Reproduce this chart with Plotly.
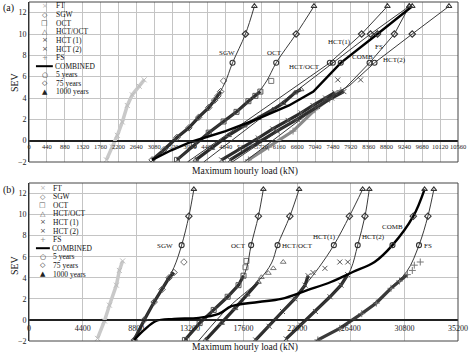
import plotly.graph_objects as go

# ---------------- Panel (a) data (x: kN, y: SEV) ----------------
A_RP_SEV = [7.3, 10.0, 12.6]          # 5, 75, 1000 years

A_FT_X = [1906, 2053, 2175, 2297, 2420, 2542, 2713, 2835]
A_FT_Y = [-1.8, -0.6, 0.5, 1.75, 3.3, 4.3, 5.1, 5.7]

A_SGW_X = [3030, 3324, 3642, 3935, 4179, 4424, 4570, 4650, 4717]
A_SGW_Y = [-1.8, -0.85, 0.3, 1.2, 2.2, 3.1, 3.8, 4.2, 4.6]
A_SGW_OUT_X = [4790]
A_SGW_OUT_Y = [5.6]
A_SGW_FIT_X = [3000, 3642, 4179, 4570, 4820]
A_SGW_FIT_Y = [-2.0, 0.3, 2.2, 3.8, 5.4]
A_SGW_RP = [5010, 5328, 5548]

A_OCT_X = [3642, 4057, 4424, 4790, 5108, 5401, 5572, 5695]
A_OCT_Y = [-1.8, -0.4, 0.75, 1.8, 2.7, 3.7, 4.2, 4.6]
A_OCT_OUT_X = [5963]
A_OCT_OUT_Y = [5.6]
A_OCT_FIT_X = [3600, 4424, 5108, 5572, 5850]
A_OCT_FIT_Y = [-2.0, 0.75, 2.7, 4.2, 5.6]
A_OCT_RP = [6085, 6575, 7015]

A_HCTOCT_X = [4106, 4500, 4912, 5300, 5645, 6000, 6256, 6550, 6697]
A_HCTOCT_Y = [-1.8, -0.7, 0.5, 1.4, 2.1, 2.9, 3.5, 4.5, 4.8]
A_HCTOCT_FIT_X = [3900]
A_HCTOCT_FIT_Y = [-2.0]
A_HCTOCT_RP = [7405, 8187, 8823]

A_HCT1_X = [4741, 5200, 5645, 6000, 6378, 6700, 6990, 7300, 7528]
A_HCT1_Y = [-1.8, -0.8, 0.25, 1.1, 1.9, 2.6, 3.3, 4.0, 4.5]
A_HCT1_OUT_X = [7601]
A_HCT1_OUT_Y = [5.7]
A_HCT1_FIT_X = [4300]
A_HCT1_FIT_Y = [-2.0]
A_HCT1_RP = [7479, 8407, 9360]

A_HCT2_X = [4950, 5500, 6100, 6600, 7100, 7450, 7750]
A_HCT2_Y = [-1.8, -0.5, 0.9, 2.0, 3.2, 4.0, 4.6]
A_HCT2_OUT_X = [8163]
A_HCT2_OUT_Y = [5.7]
A_HCT2_FIT_X = [5000, 6800, 7900]
A_HCT2_FIT_Y = [-2.0, 2.6, 5.2]
A_HCT2_RP = [8505, 9433, 10338]

A_FS_X = [5401, 5900, 6500, 7039, 7400, 7674]
A_FS_Y = [-1.8, -0.6, 0.9, 2.9, 3.9, 4.7]
A_FS_FIT_X = [5300, 7000, 7800]
A_FS_FIT_Y = [-2.0, 2.9, 5.0]
A_FS_RP = [8383, 8994, 9360]

A_COMB_X = [3030, 3500, 4000, 4840, 5600, 6400, 7000]
A_COMB_Y = [-1.8, -0.9, -0.1, 0.9, 2.0, 3.3, 4.6]
A_COMB_RP = [7674, 8578, 9433]

A_LABELS = ["SGW", "OCT", "HCT/OCT", "HCT(1)", "FS", "COMB", "HCT(2)"]
A_LABEL_X = [4864, 6037, 6770, 7650, 8627, 8212, 8994]
A_LABEL_Y = [8.2, 8.2, 6.9, 9.25, 8.8, 7.85, 7.55]

# ---------------- Panel (b) data ----------------
B_RP_SEV = [7.1, 9.85, 12.4]

B_FT_X = [5622, 6192, 6600, 7170, 7415, 7684]
B_FT_Y = [-1.75, -0.1, 1.4, 3.3, 4.7, 5.6]

B_SGW_X = [8637, 9452, 10266, 10918, 11489, 11896]
B_SGW_Y = [-1.9, 0.0, 1.7, 2.9, 4.0, 4.5]
B_SGW_OUT_X = [12711]
B_SGW_OUT_Y = [5.5]
B_SGW_FIT_X = [8450, 9452, 10266, 11200, 11900]
B_SGW_FIT_Y = [-2.0, 0.0, 1.7, 3.5, 5.0]
B_SGW_RP = [12524, 13118, 13526]

B_OCT_X = [12792, 14000, 15155, 16300, 17192, 17600]
B_OCT_Y = [-1.9, -0.3, 0.95, 2.2, 3.3, 4.2]
B_OCT_OUT_X = [17763, 17845]
B_OCT_OUT_Y = [5.0, 5.6]
B_OCT_FIT_X = [12700, 15155, 17192, 17845]
B_OCT_FIT_Y = [-2.0, 0.95, 3.3, 4.9]
B_OCT_RP = [18227, 18822, 19229]

B_HCTOCT_X = [14500, 15800, 16900, 17900, 18822]
B_HCTOCT_Y = [-1.9, -0.3, 1.1, 2.4, 3.6]
B_HCTOCT_OUT_X = [19066, 19637, 20044, 20859]
B_HCTOCT_OUT_Y = [4.05, 4.45, 4.9, 5.5]
B_HCTOCT_FIT_X = [13900, 16378, 18822, 19900]
B_HCTOCT_FIT_Y = [-2.0, 1.2, 3.7, 5.4]
B_HCTOCT_RP = [20395, 21404, 22163]

B_HCT1_X = [18600, 19700, 20800, 21800, 22650, 22900]
B_HCT1_Y = [-1.9, -0.6, 0.8, 2.0, 3.3, 4.2]
B_HCT1_OUT_X = [23303, 24281, 25503]
B_HCT1_OUT_Y = [4.5, 4.9, 5.5]
B_HCT1_FIT_X = [18400, 20800, 22650, 23800]
B_HCT1_FIT_Y = [-2.0, 0.8, 3.3, 5.0]
B_HCT1_RP = [25014, 26290, 27377]

B_HCT2_X = [21100, 22300, 23500, 24700, 25600, 26150]
B_HCT2_Y = [-1.8, -0.5, 0.8, 2.2, 3.3, 4.3]
B_HCT2_OUT_X = [26155]
B_HCT2_OUT_Y = [5.5]
B_HCT2_FIT_X = [20900, 23500, 25600, 26400]
B_HCT2_FIT_Y = [-2.0, 0.8, 3.3, 4.8]
B_HCT2_RP = [26970, 27567, 27920]

B_FS_X = [23700, 25500, 27300, 28500, 29700, 30400, 31044]
B_FS_Y = [-1.9, -0.8, 0.6, 1.6, 3.0, 3.7, 4.3]
B_FS_OUT_X = [31451, 31614, 32103]
B_FS_OUT_Y = [4.7, 5.2, 5.5]
B_FS_FIT_X = [23500, 27300, 29400, 31000]
B_FS_FIT_Y = [-2.0, 0.6, 2.8, 4.6]
B_FS_RP = [32000, 32730, 33219]

B_COMB_X = [8637, 9452, 10429, 11896, 13933, 15563, 16622, 18822, 20696,
            22896, 24770, 26563, 28355]
B_COMB_Y = [-1.9, -0.95, -0.1, 0.1, 0.2, 0.57, 1.3, 1.7, 2.0,
            2.85, 3.6, 4.55, 5.5]
B_COMB_RP = [29822, 31533, 32456]

B_LABELS = ["SGW", "OCT", "HCT/OCT", "HCT(1)", "HCT(2)", "COMB", "FS"]
B_LABEL_X = [11163, 17192, 22000, 24281, 28274, 29822, 32756]
B_LABEL_Y = [7.0, 7.0, 7.0, 7.84, 7.84, 8.8, 7.0]

LEGEND_NAMES = ["FT", "SGW", "OCT", "HCT/OCT", "HCT (1)", "HCT (2)", "FS",
                "COMBINED", "5 years", "75 years", "1000 years"]
LEGEND_GLYPHS = ["×", "◇", "□", "△", "×", "×", "+", "", "○", "◇", "▲"]

# ---------------- layout helpers ----------------
W, H = 470, 353
ML, MR, MT, MB = 29, 9, 2, 12
PW, PH = W - ML - MR, H - MT - MB
SERIF = "Liberation Serif"


def pxx(px):
    return (px - ML) / PW


def pxy(py):
    return 1 - (py - MT) / PH


A_DOM = [pxy(162), 1.0]
B_DOM = [0.0, pxy(183)]
YR = [-2, 13]

fig = go.Figure()

BAND = "#2b2b2b"
FIT = "#3a3a3a"


def add_band(x, y, sym, xa, ya, color=BAND, mcolor="#555", lw=3.2):
    fig.add_trace(go.Scatter(x=x, y=y, mode="lines+markers", xaxis=xa, yaxis=ya,
                             line=dict(color=color, width=lw),
                             marker=dict(symbol=sym, size=5, color=mcolor,
                                         line=dict(width=1, color=mcolor)),
                             showlegend=False, hoverinfo="skip"))


def add_pts(x, y, sym, xa, ya, mcolor="#444"):
    fig.add_trace(go.Scatter(x=x, y=y, mode="markers", xaxis=xa, yaxis=ya,
                             marker=dict(symbol=sym, size=5, color=mcolor,
                                         line=dict(width=1, color=mcolor)),
                             showlegend=False, hoverinfo="skip"))


def add_fit(fx, fy, rp, rpsev, xa, ya, color=FIT, width=1.0, shape="linear"):
    fig.add_trace(go.Scatter(x=fx + rp, y=fy + rpsev, mode="lines", xaxis=xa, yaxis=ya,
                             line=dict(color=color, width=width, shape=shape),
                             showlegend=False, hoverinfo="skip"))


def add_rp(rp, rpsev, xa, ya):
    for sym, xv, yv in zip(["circle-open", "diamond-open", "triangle-up-open"], rp, rpsev):
        fig.add_trace(go.Scatter(x=[xv], y=[yv], mode="markers", xaxis=xa, yaxis=ya,
                                 marker=dict(symbol=sym, size=5, color="#333",
                                             line=dict(width=1.1, color="#333")),
                                 showlegend=False, hoverinfo="skip"))


# ---- panel (a) ----
xa, ya, S = "x", "y", A_RP_SEV
add_band(A_FT_X, A_FT_Y, "x-thin-open", xa, ya, color="#c9c9c9", mcolor="#bdbdbd", lw=3.5)
add_band(A_FS_X, A_FS_Y, "cross-thin-open", xa, ya, color="#8a8a8a", mcolor="#888")
add_band(A_HCT2_X, A_HCT2_Y, "x-thin-open", xa, ya)
add_band(A_HCT1_X, A_HCT1_Y, "x-thin-open", xa, ya)
add_band(A_HCTOCT_X, A_HCTOCT_Y, "triangle-up-open", xa, ya)
add_band(A_OCT_X, A_OCT_Y, "square-open", xa, ya)
add_band(A_SGW_X, A_SGW_Y, "diamond-open", xa, ya)
add_pts(A_SGW_OUT_X, A_SGW_OUT_Y, "diamond-open", xa, ya, "#777")
add_pts(A_OCT_OUT_X, A_OCT_OUT_Y, "square-open", xa, ya, "#777")
add_pts(A_HCT1_OUT_X, A_HCT1_OUT_Y, "x-thin-open", xa, ya, "#555")
add_pts(A_HCT2_OUT_X, A_HCT2_OUT_Y, "x-thin-open", xa, ya, "#555")
add_fit(A_SGW_FIT_X, A_SGW_FIT_Y, A_SGW_RP, S, xa, ya, shape="spline")
add_fit(A_OCT_FIT_X, A_OCT_FIT_Y, A_OCT_RP, S, xa, ya, shape="spline")
add_fit(A_HCTOCT_FIT_X, A_HCTOCT_FIT_Y, A_HCTOCT_RP, S, xa, ya)
add_fit(A_HCT1_FIT_X, A_HCT1_FIT_Y, A_HCT1_RP, S, xa, ya)
add_fit(A_HCT2_FIT_X, A_HCT2_FIT_Y, A_HCT2_RP, S, xa, ya)
add_fit(A_FS_FIT_X, A_FS_FIT_Y, A_FS_RP, S, xa, ya)
add_fit(A_COMB_X, A_COMB_Y, A_COMB_RP, S, xa, ya, color="#000", width=2.4)
for rp in [A_SGW_RP, A_OCT_RP, A_HCTOCT_RP, A_HCT1_RP, A_HCT2_RP, A_FS_RP, A_COMB_RP]:
    add_rp(rp, S, xa, ya)

# ---- panel (b) ----
xa, ya, S = "x2", "y2", B_RP_SEV
add_band(B_FT_X, B_FT_Y, "x-thin-open", xa, ya, color="#c9c9c9", mcolor="#bdbdbd", lw=3.5)
add_band(B_FS_X, B_FS_Y, "cross-thin-open", xa, ya, color="#3a3a3a", mcolor="#777")
add_band(B_HCT2_X, B_HCT2_Y, "x-thin-open", xa, ya)
add_band(B_HCT1_X, B_HCT1_Y, "x-thin-open", xa, ya)
add_band(B_HCTOCT_X, B_HCTOCT_Y, "triangle-up-open", xa, ya)
add_band(B_OCT_X, B_OCT_Y, "square-open", xa, ya)
add_band(B_SGW_X, B_SGW_Y, "diamond-open", xa, ya)
add_pts(B_SGW_OUT_X, B_SGW_OUT_Y, "diamond-open", xa, ya, "#777")
add_pts(B_OCT_OUT_X, B_OCT_OUT_Y, "square-open", xa, ya, "#777")
add_pts(B_HCTOCT_OUT_X, B_HCTOCT_OUT_Y, "triangle-up-open", xa, ya, "#777")
add_pts(B_HCT1_OUT_X, B_HCT1_OUT_Y, "x-thin-open", xa, ya, "#555")
add_pts(B_HCT2_OUT_X, B_HCT2_OUT_Y, "x-thin-open", xa, ya, "#555")
add_pts(B_FS_OUT_X, B_FS_OUT_Y, "cross-thin-open", xa, ya, "#777")
add_fit(B_SGW_FIT_X, B_SGW_FIT_Y, B_SGW_RP, S, xa, ya, shape="spline")
add_fit(B_OCT_FIT_X, B_OCT_FIT_Y, B_OCT_RP, S, xa, ya, shape="spline")
add_fit(B_HCTOCT_FIT_X, B_HCTOCT_FIT_Y, B_HCTOCT_RP, S, xa, ya, shape="spline")
add_fit(B_HCT1_FIT_X, B_HCT1_FIT_Y, B_HCT1_RP, S, xa, ya, shape="spline")
add_fit(B_HCT2_FIT_X, B_HCT2_FIT_Y, B_HCT2_RP, S, xa, ya, shape="spline")
add_fit(B_FS_FIT_X, B_FS_FIT_Y, B_FS_RP, S, xa, ya, shape="spline")
add_fit(B_COMB_X, B_COMB_Y, B_COMB_RP, S, xa, ya, color="#000", width=2.4, shape="spline")
for rp in [B_SGW_RP, B_OCT_RP, B_HCTOCT_RP, B_HCT1_RP, B_HCT2_RP, B_FS_RP, B_COMB_RP]:
    add_rp(rp, S, xa, ya)

# ---------------- axes ----------------
GRID = "#c4c4c4"
AX = "#222"


def xax(dom_y, rng, dt, fs):
    pos = dom_y[0] + (0 - YR[0]) / (YR[1] - YR[0]) * (dom_y[1] - dom_y[0])
    return dict(domain=[0, 1], range=rng, tickmode="linear", tick0=0, dtick=dt,
                tickformat="d", anchor="free", position=pos, showline=True,
                linecolor=AX, linewidth=1, showgrid=True, gridcolor=GRID, gridwidth=1,
                zeroline=False, ticks="", tickangle=0, ticklabeloverflow="allow",
                tickfont=dict(family=SERIF, size=fs, color="#222"))


def yax(dom, anchor):
    return dict(domain=dom, range=YR, tickvals=[-2, 0, 2, 4, 6, 8, 10, 12], anchor=anchor,
                showline=True, linecolor=AX, linewidth=1, showgrid=True, gridcolor=GRID,
                gridwidth=1, zeroline=True, zerolinecolor=AX, zerolinewidth=1, ticks="",
                tickfont=dict(family=SERIF, size=8, color="#222"))


fig.update_layout(
    width=W, height=H, margin=dict(l=ML, r=MR, t=MT, b=MB),
    paper_bgcolor="white", plot_bgcolor="white", showlegend=False,
    xaxis=xax(A_DOM, [0, 10560], 440, 6.5),
    yaxis=yax(A_DOM, "x"),
    xaxis2=xax(B_DOM, [0, 35200], 4400, 8),
    yaxis2=yax(B_DOM, "x2"),
)

shapes = []
for xr, yr in [("x", "y"), ("x2", "y2")]:
    shapes.append(dict(type="rect", xref=xr + " domain", yref=yr + " domain",
                       x0=0, x1=1, y0=0, y1=1, line=dict(color="#444", width=1)))

ann = []
# curve labels
for labs, lx, ly, xr, yr in [(A_LABELS, A_LABEL_X, A_LABEL_Y, "x", "y"),
                             (B_LABELS, B_LABEL_X, B_LABEL_Y, "x2", "y2")]:
    for t, xv, yv in zip(labs, lx, ly):
        ann.append(dict(x=xv, y=yv, xref=xr, yref=yr, text=t, showarrow=False,
                        font=dict(family=SERIF, size=7, color="#111")))

# panel tags, axis titles
for tag, ty, sev_y, xt_y in [("(a)", 8, 82, 171), ("(b)", 190, 265, 347)]:
    ann.append(dict(x=pxx(1), y=pxy(ty), xref="paper", yref="paper", text=tag,
                    showarrow=False, xanchor="left", yanchor="middle",
                    font=dict(family=SERIF, size=10, color="#111")))
    ann.append(dict(x=pxx(14), y=pxy(sev_y), xref="paper", yref="paper", text="SEV",
                    showarrow=False, textangle=-90, xanchor="center", yanchor="middle",
                    font=dict(family=SERIF, size=10, color="#111")))
    ann.append(dict(x=pxx(247), y=pxy(xt_y), xref="paper", yref="paper",
                    text="Maximum hourly load (kN)", showarrow=False,
                    xanchor="center", yanchor="middle",
                    font=dict(family=SERIF, size=9.5, color="#111")))

# legends (drawn as text, compact like the original)
GLYPH_COL = ["#b5b5b5", "#555", "#555", "#555", "#444", "#444", "#888",
             "#000", "#222", "#222", "#222"]
for y0, gx, tx in [(6, 45, 54), (188, 43, 51)]:
    for i, (name, g) in enumerate(zip(LEGEND_NAMES, LEGEND_GLYPHS)):
        yy = y0 + i * 8.6
        if name == "COMBINED":
            shapes.append(dict(type="line", xref="paper", yref="paper",
                               x0=pxx(36), x1=pxx(tx - 1), y0=pxy(yy), y1=pxy(yy),
                               line=dict(color="#000", width=2)))
            ann.append(dict(x=pxx(tx - 1), y=pxy(yy), xref="paper", yref="paper",
                            text=name, showarrow=False, xanchor="left", yanchor="middle",
                            font=dict(family=SERIF, size=7.5, color="#111")))
            continue
        ann.append(dict(x=pxx(gx), y=pxy(yy), xref="paper", yref="paper", text=g,
                        showarrow=False, xanchor="center", yanchor="middle",
                        font=dict(family="DejaVu Sans", size=7, color=GLYPH_COL[i])))
        ann.append(dict(x=pxx(tx), y=pxy(yy), xref="paper", yref="paper", text=name,
                        showarrow=False, xanchor="left", yanchor="middle",
                        font=dict(family=SERIF, size=7.5, color="#111")))

fig.update_layout(shapes=shapes, annotations=ann)
fig.write_html("out.html")
